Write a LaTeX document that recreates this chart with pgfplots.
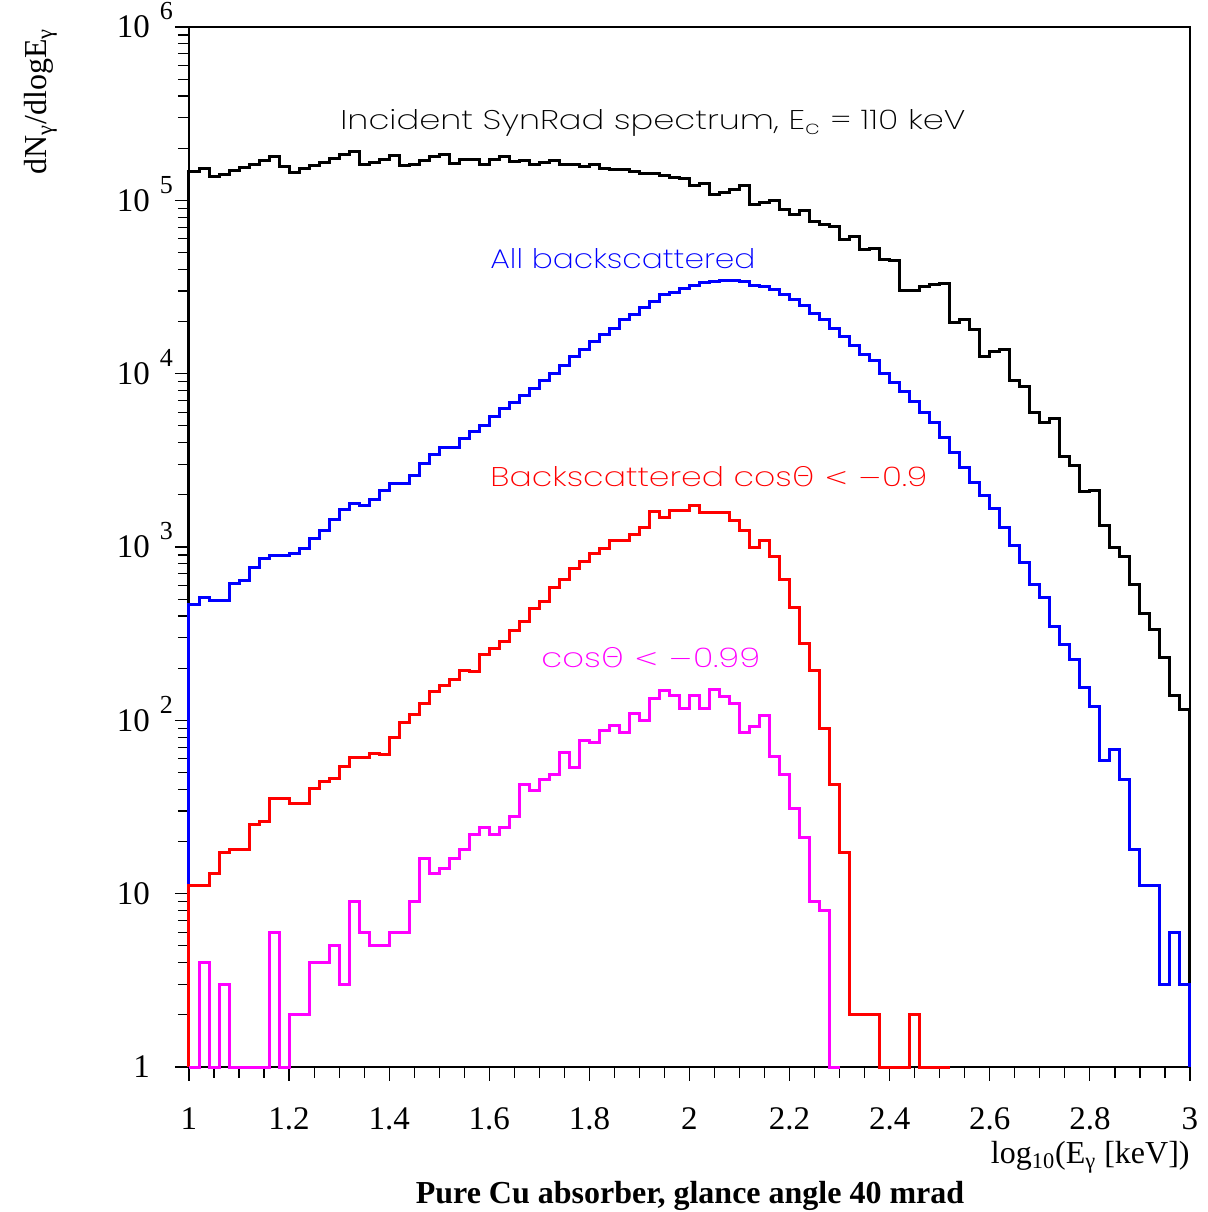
\documentclass[border=0pt]{standalone}
\usepackage{fontspec}
\setmainfont{Liberation Serif}
\IfFontExistsTF{Poppins ExtraLight}{\newfontfamily\annot[FakeStretch=1.25]{Poppins ExtraLight}}{\IfFontExistsTF{Poppins Light}{\newfontfamily\annot[FakeStretch=1.25]{Poppins Light}}{\newfontfamily\annot[FakeStretch=1.25]{Poppins}}}
\IfFontExistsTF{DejaVu Sans ExtraLight}{\newfontfamily\grk[FakeStretch=1.1]{DejaVu Sans ExtraLight}}{\newfontfamily\grk{DejaVu Sans}}
\usepackage{pgfplots}
\pgfplotsset{compat=1.18}
\definecolor{rblue}{RGB}{0,0,255}
\definecolor{rred}{RGB}{255,0,0}
\definecolor{rmag}{RGB}{255,0,255}
\newcommand{\tenp}[1]{10\rlap{\hspace{5pt}\smash{\raisebox{9pt}{\fontsize{13}{13}\selectfont #1}}}}
\begin{document}
\begin{tikzpicture}
\useasboundingbox (-94.5pt,-72.5pt) rectangle (509pt,533.5pt);
\begin{axis}[
  at={(0,0)}, anchor=south west,
  scale only axis, width=500.5pt, height=520pt,
  xmin=1, xmax=3, ymode=log, ymin=1, ymax=1e6,
  axis line style={line width=0.7pt},
  xtick={1,1.2,1.4,1.6,1.8,2,2.2,2.4,2.6,2.8,3},
  xticklabels={1,1.2,1.4,1.6,1.8,2,2.2,2.4,2.6,2.8,3},
  minor x tick num=3,
  ytick={1,10,100,1000,10000,100000,1000000},
  yticklabels={1,10,\tenp{2},\tenp{3},\tenp{4},\tenp{5},\tenp{6}},
  xtick pos=bottom, ytick pos=left, tick align=outside,
  major tick length=7pt, minor tick length=5.5pt,
  tick style={line width=0.6pt, black},
  x tick label style={font=\fontsize{16.5}{17}\selectfont, anchor=north, yshift=-10pt},
  y tick label style={font=\fontsize{16.5}{17}\selectfont, anchor=east, xshift=-9pt},
  clip=false,
]
% Incident spectrum (black)
\addplot[black, line width=1.5pt, const plot] coordinates {
(1,1)(1.00,146000)(1.02,153000)(1.04,137000)(1.06,141000)(1.08,148000)(1.10,154000)(1.12,162000)(1.14,169000)(1.16,179000)(1.18,156000)(1.20,144000)(1.22,152000)(1.24,158000)(1.26,166000)(1.28,174000)(1.30,183000)(1.32,191000)(1.34,162000)(1.36,165000)(1.38,172000)(1.40,181000)(1.42,158000)(1.44,162000)(1.46,169000)(1.48,179000)(1.50,184000)(1.52,164000)(1.54,171000)(1.56,171000)(1.58,162000)(1.60,171000)(1.62,179000)(1.64,167000)(1.66,169000)(1.68,162000)(1.70,165000)(1.72,169000)(1.74,161000)(1.76,160000)(1.78,156000)(1.80,161000)(1.82,153000)(1.84,150000)(1.86,150000)(1.88,146000)(1.90,143000)(1.92,142000)(1.94,139000)(1.96,136000)(1.98,134000)(2.00,122000)(2.02,125000)(2.04,108000)(2.06,111000)(2.08,116000)(2.10,121000)(2.12,94000)(2.14,97500)(2.16,100000)(2.18,88700)(2.20,82300)(2.22,86800)(2.24,75300)(2.26,72100)(2.28,71100)(2.30,59800)(2.32,62200)(2.34,51700)(2.36,52400)(2.38,45300)(2.40,44900)(2.42,30100)(2.44,30000)(2.46,31800)(2.48,32900)(2.50,33300)(2.52,19700)(2.54,20400)(2.56,18000)(2.58,12500)(2.60,13400)(2.62,13700)(2.64,9100)(2.66,8410)(2.68,5960)(2.70,5240)(2.72,5520)(2.74,3320)(2.76,2940)(2.78,2080)(2.80,2110)(2.82,1330)(2.84,991)(2.86,887)(2.88,604)(2.90,414)(2.92,335)(2.94,231)(2.96,140)(2.98,115)(3,115)(3,1)};
% All backscattered (blue)
\addplot[rblue, line width=1.5pt, const plot] coordinates {
(1,1)(1.00,467)(1.02,513)(1.04,494)(1.06,494)(1.08,618)(1.10,637)(1.12,760)(1.14,853)(1.16,899)(1.18,899)(1.20,920)(1.22,982)(1.24,1122)(1.26,1248)(1.28,1445)(1.30,1635)(1.32,1793)(1.34,1730)(1.36,1892)(1.38,2113)(1.40,2330)(1.42,2330)(1.44,2602)(1.46,3042)(1.48,3396)(1.50,3741)(1.52,3741)(1.54,4236)(1.56,4667)(1.58,5012)(1.60,5649)(1.62,6310)(1.64,6839)(1.66,7464)(1.68,8241)(1.70,9190)(1.72,10040)(1.74,11220)(1.76,12530)(1.78,13830)(1.80,15420)(1.82,16870)(1.84,18280)(1.86,20420)(1.88,22090)(1.90,24040)(1.92,26000)(1.94,28440)(1.96,29440)(1.98,31050)(2.00,32460)(2.02,33500)(2.04,33960)(2.06,34360)(2.08,34670)(2.10,33960)(2.12,32460)(2.14,31770)(2.16,30410)(2.18,28440)(2.20,26610)(2.22,24890)(2.24,22290)(2.26,20420)(2.28,18280)(2.30,16330)(2.32,14620)(2.34,12940)(2.36,11880)(2.38,10040)(2.40,8913)(2.42,7870)(2.44,6887)(2.46,5957)(2.48,5212)(2.50,4276)(2.52,3516)(2.54,2866)(2.56,2350)(2.58,1995)(2.60,1671)(2.62,1300)(2.64,1014)(2.66,811)(2.68,609)(2.70,509)(2.72,350)(2.74,275)(2.76,223)(2.78,154)(2.80,120)(2.82,58.5)(2.84,68)(2.86,45.7)(2.88,18.1)(2.90,11.1)(2.92,11.1)(2.94,3)(2.96,6)(2.98,3)(3,3)(3,1)};
% Backscattered cos < -0.9 (red)
\addplot[rred, line width=1.5pt, const plot] coordinates {
(1,1)(1.00,11.1)(1.02,11.1)(1.04,13.1)(1.06,17.2)(1.08,18.0)(1.10,18.0)(1.12,25.2)(1.14,26.0)(1.16,35.2)(1.18,35.2)(1.20,33.2)(1.22,33.2)(1.24,40.5)(1.26,44.3)(1.28,46.3)(1.30,54.5)(1.32,61.2)(1.34,61.2)(1.36,64.5)(1.38,63.7)(1.40,79.8)(1.42,96.9)(1.44,108)(1.46,125)(1.48,146)(1.50,158)(1.52,173)(1.54,195)(1.56,192)(1.58,241)(1.60,258)(1.62,284)(1.64,332)(1.66,372)(1.68,443)(1.70,488)(1.72,585)(1.74,651)(1.76,754)(1.78,822)(1.80,912)(1.82,982)(1.84,1084)(1.86,1096)(1.88,1183)(1.90,1300)(1.92,1600)(1.94,1476)(1.96,1614)(1.98,1620)(2.00,1730)(2.02,1585)(2.04,1585)(2.06,1580)(2.08,1419)(2.10,1242)(2.12,995)(2.14,1096)(2.16,879)(2.18,653)(2.20,449)(2.22,278)(2.24,195)(2.26,89.9)(2.28,42.4)(2.30,17.2)(2.32,2)(2.34,2)(2.36,2)(2.38,1)(2.40,1)(2.42,1)(2.44,2)(2.46,1)(2.48,1)(2.50,1)(2.52,1)};
% cos < -0.99 (magenta)
\addplot[rmag, line width=1.5pt, const plot] coordinates {
(1,1)(1.00,1)(1.02,4)(1.04,1)(1.06,3)(1.08,1)(1.10,1)(1.12,1)(1.14,1)(1.16,6)(1.18,1)(1.20,2)(1.22,2)(1.24,4)(1.26,4)(1.28,5)(1.30,3)(1.32,9)(1.34,6)(1.36,5)(1.38,5)(1.40,6)(1.42,6)(1.44,9)(1.46,16)(1.48,13)(1.50,14)(1.52,16)(1.54,18)(1.56,22)(1.58,24)(1.60,22)(1.62,24)(1.64,28)(1.66,42.4)(1.68,39.6)(1.70,45.3)(1.72,49)(1.74,65)(1.76,53.3)(1.78,76.3)(1.80,74.3)(1.82,87.9)(1.84,93)(1.86,85.3)(1.88,110)(1.90,99.5)(1.92,134)(1.94,148)(1.96,139)(1.98,117)(2.00,140)(2.02,117)(2.04,151)(2.06,138)(2.08,125)(2.10,85.3)(2.12,91.8)(2.14,106)(2.16,61.7)(2.18,49)(2.20,31)(2.22,21.1)(2.24,9)(2.26,8)(2.28,1)(2.30,1)};
\end{axis}
% annotations
\node[anchor=base west, inner sep=0pt, font=\annot\fontsize{13.5}{14}\selectfont, black] at (75.5pt,468.5pt) {Incident SynRad spectrum, E\textsubscript{c} = 110 keV};
\node[anchor=base west, inner sep=0pt, font=\annot\fontsize{13.5}{14}\selectfont, rblue] at (150.5pt,399pt) {\scalebox{0.925}[1]{All backscattered}};
\node[anchor=base west, inner sep=0pt, font=\annot\fontsize{13.5}{14}\selectfont, rred] at (150.5pt,290pt) {\scalebox{0.98}[1]{Backscattered cos{\grk Θ} {\grk <} {\grk −}0.9}};
\node[anchor=base west, inner sep=0pt, font=\annot\fontsize{13.5}{14}\selectfont, rmag] at (176pt,199.8pt) {cos{\grk Θ} {\grk <} {\grk −}0.99};
% axis titles
\node[anchor=base east, rotate=90, inner sep=0pt, font=\fontsize{16}{18}\selectfont] at (-71pt,519.5pt) {dN\textsubscript{γ}/dlogE\textsubscript{γ}};
\node[anchor=base east, inner sep=0pt, font=\fontsize{16}{18}\selectfont] at (500.5pt,-48pt) {log\textsubscript{10}(E\textsubscript{γ} [keV])};
\node[anchor=base, inner sep=0pt, font=\fontsize{16}{18}\selectfont\bfseries] at (250.5pt,-68pt) {Pure Cu absorber, glance angle 40 mrad};
\end{tikzpicture}
\end{document}
